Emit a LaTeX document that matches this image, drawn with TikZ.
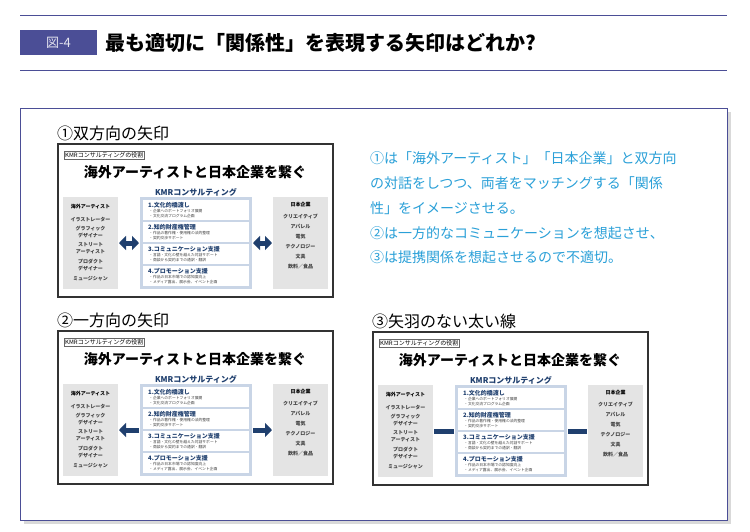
\documentclass[tikz,border=0pt]{standalone}
\usepackage{fontspec}
\setmainfont{Noto Sans CJK JP}
\usetikzlibrary{arrows.meta}

\definecolor{navy}{HTML}{4B4E96}
\definecolor{kmrblue}{HTML}{1F3F6E}
\definecolor{paleblue}{HTML}{C9D5E6}
\definecolor{boxgray}{HTML}{E4E4E4}
\definecolor{noteblue}{HTML}{2AA0D8}

\tikzset{
  grayside/.style={fill=boxgray, draw=none},
  item/.style={fill=white, draw=none},
  itemhead/.style={anchor=west, inner sep=0, font=\bfseries\fontsize{6}{6}\selectfont, text=kmrblue},
  itemsub/.style={anchor=west, inner sep=0, font=\fontsize{3.8}{4}\selectfont, text=black!75},
  sidetext/.style={inner sep=0, font=\bfseries\fontsize{5}{5}\selectfont, text=black!75},
  blockarrow/.style={draw=kmrblue, line width=5pt},
  paneltitle/.style={anchor=west, inner sep=0, font=\fontsize{16}{16}\selectfont},
  bigtip/.tip={Triangle[length=7pt,width=14pt]}
}

% one KMR slide; #1 shift x, #2 shift y, #3 name prefix, #4 arrow tips
\newcommand{\kmrpanel}[4]{%
  \begin{scope}[shift={(#1,#2)}]
    \draw[line width=1.2pt, black!80] (58,144) rectangle (333,297);
    \node[draw=black!60, inner sep=1pt, anchor=west, font=\fontsize{6}{6}\selectfont] (#3tag) at (64,155) {KMRコンサルティングの役割};
    \node[font=\bfseries\fontsize{14}{14}\selectfont] (#3head) at (195,172) {海外アーティストと日本企業を繋ぐ};
    \node[font=\bfseries\fontsize{8}{8}\selectfont, text=kmrblue] (#3kmr) at (196,192) {KMRコンサルティング};
    \path[grayside] (63,197) rectangle (118,289);
    \path[grayside] (273,197) rectangle (328,289);
    \path[fill=paleblue] (140,197) rectangle (252,289);
    \coordinate (#3L) at (119,243);
    \coordinate (#3CL) at (139,243);
    \coordinate (#3CR) at (253,243);
    \coordinate (#3R) at (272,243);
    \foreach \ya/\yb in {200/220, 222/242, 244/264, 266/286}
      \path[item] (143,\ya) rectangle (249,\yb);
    \node[itemhead] at (148,205) {1.文化的橋渡し};
    \node[itemsub] at (149,211.5) {・企業へのポートフォリオ展開};
    \node[itemsub] at (149,216) {・文化交流プログラム企画};
    \node[itemhead] at (148,227) {2.知的財産権管理};
    \node[itemsub] at (149,233.5) {・作品の著作権・使用権の法的整理};
    \node[itemsub] at (149,238) {・契約交渉サポート};
    \node[itemhead] at (148,249) {3.コミュニケーション支援};
    \node[itemsub] at (149,255.5) {・言語・文化の壁を越えた対話サポート};
    \node[itemsub] at (149,260) {・商談から契約までの通訳・翻訳};
    \node[itemhead] at (148,271) {4.プロモーション支援};
    \node[itemsub] at (149,277.5) {・作品の日本市場での認知度向上};
    \node[itemsub] at (149,282) {・メディア露出、展示会、イベント企画};
    \node[sidetext, text=black] at (90.5,207) {海外アーティスト};
    \foreach \txt/\yy in {イラストレーター/220, グラフィック/229, デザイナー/236, ストリート/245,
        アーティスト/252, プロダクト/262, デザイナー/269, ミュージシャン/279}
      \node[sidetext] at (90.5,\yy) {\txt};
    \node[sidetext, text=black] at (300.5,205) {日本企業};
    \foreach \txt/\yy in {クリエイティブ/217, アパレル/227, 電気/237, テクノロジー/247,
        文具/257, 飲料／食品/267}
      \node[sidetext] at (300.5,\yy) {\txt};
    \draw[blockarrow, #4] (#3CL) -- (#3L);
    \draw[blockarrow, #4] (#3CR) -- (#3R);
  \end{scope}}

\begin{document}
\begin{tikzpicture}[x=1pt, y=-1pt]
  \useasboundingbox[fill=white] (0,0) rectangle (750,531);
  % header
  \draw[navy, line width=1pt] (20,15) -- (727,15);
  \draw[navy, line width=1pt] (20,70) -- (727,70);
  \node[fill=navy, minimum width=77pt, minimum height=25pt, inner sep=0,
        text=white!85!navy, font=\fontsize{13}{13}\selectfont] (fig) at (58.5,42.5) {図-4};
  \node[anchor=west, inner sep=0, font=\bfseries\fontsize{20}{20}\selectfont] (title) at (105,43)
    {最も適切に「関係性」を表現する矢印はどれか?};
  % panel
  \fill[black!15] (24,112) rectangle (731,524);
  \draw[navy, fill=white, line width=1pt] (20,108) rectangle (727,520);
  \node[paneltitle] (t1) at (57,133) {①双方向の矢印};
  \node[paneltitle] (t2) at (57,320) {②一方向の矢印};
  \node[paneltitle] (t3) at (372,321) {③矢羽のない太い線};
  \kmrpanel{0}{0}{a}{bigtip-bigtip}
  \kmrpanel{0}{187}{b}{-bigtip}
  \kmrpanel{315}{188}{c}{-}
  % note
  \begin{scope}[every node/.style={anchor=west, inner sep=0, text=noteblue, font=\fontsize{14}{14}\selectfont}]
    \node (n1) at (370,158) {①は「海外アーティスト」「日本企業」と双方向};
    \node (n2) at (370,183) {の対話をしつつ、両者をマッチングする「関係};
    \node (n3) at (370,208) {性」をイメージさせる。};
    \node (n4) at (370,233) {②は一方的なコミュニケーションを想起させ、};
    \node (n5) at (370,257) {③は提携関係を想起させるので不適切。};
  \end{scope}
\end{tikzpicture}
\end{document}
